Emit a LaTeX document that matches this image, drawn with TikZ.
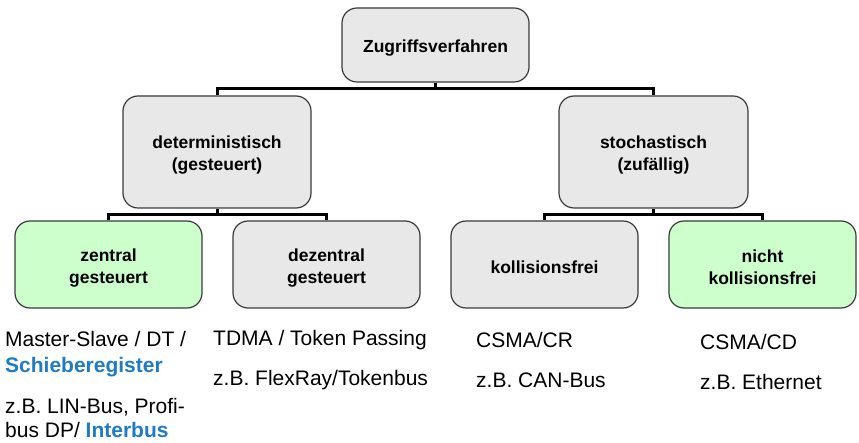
\documentclass[tikz,border=0pt]{standalone}
\usepackage{fontspec}
\setmainfont{Liberation Sans}
\definecolor{boxgray}{HTML}{E8E8E8}
\definecolor{boxgreen}{HTML}{CCFFCC}
\definecolor{boxline}{HTML}{3A3A3A}
\definecolor{linkblue}{HTML}{1F7CC4}
\newcommand\bxstrut{\rule{0pt}{19pt}}
\begin{document}
\begin{tikzpicture}[x=1pt,y=-1pt,
  box/.style={draw=boxline,line width=1.2pt,rounded corners=15pt,fill=boxgray,
    align=center,inner sep=0pt,font=\bfseries\fontsize{17.5}{22}\selectfont},
  greenbox/.style={box,fill=boxgreen},
  conn/.style={line width=3pt},
  plain/.style={anchor=base west,inner sep=0pt,font=\fontsize{21}{25}\selectfont,align=left}]
\useasboundingbox (0,0) rectangle (859,443);

\node[box,minimum width=187pt,minimum height=74pt] (top) at (435.5,45) {\bxstrut Zugriffsverfahren};
\node[box,minimum width=188pt,minimum height=112pt] (det) at (217,152) {\bxstrut deterministisch\\(gesteuert)};
\node[box,minimum width=189pt,minimum height=112pt] (sto) at (653.5,152) {\bxstrut stochastisch\\(zufällig)};

\node[greenbox,minimum width=187pt,minimum height=87pt] (zen) at (108.5,264.5) {\bxstrut zentral\\gesteuert};
\node[box,minimum width=187pt,minimum height=87pt] (dez) at (326.5,264.5) {\bxstrut dezentral\\gesteuert};
\node[box,minimum width=187pt,minimum height=87pt] (kol) at (544.5,264.5) {\bxstrut kollisionsfrei};
\node[greenbox,minimum width=187pt,minimum height=87pt] (nko) at (762.5,264.5) {\bxstrut nicht\\kollisionsfrei};

\coordinate (j1) at (435.5,89);
\coordinate (j2) at (217,215);
\coordinate (j3) at (653.5,215);

\draw[conn] (top.south) -- (j1);
\draw[conn] (det.north) |- (j1) -| (sto.north);
\draw[conn] (det.south) -- (j2);
\draw[conn] (zen.north) |- (j2) -| (dez.north);
\draw[conn] (sto.south) -- (j3);
\draw[conn] (kol.north) |- (j3) -| (nko.north);

\node[plain] (t1) at (5,347) {Master-Slave / DT /};
\node[plain] (t2) at (5,372) {\textcolor{linkblue}{\bfseries Schieberegister}};
\node[plain] (t3) at (5,413) {z.B. LIN-Bus, Profi-};
\node[plain] (t4) at (5,437) {bus DP/ \textcolor{linkblue}{\bfseries Interbus}};

\node[plain] (t5) at (213,346) {TDMA / Token Passing};
\node[plain] (t6) at (213,385) {z.B. FlexRay/Tokenbus};

\node[plain] (t7) at (476,348) {CSMA/CR};
\node[plain] (t8) at (476,387) {z.B. CAN-Bus};

\node[plain] (t9) at (700,349) {CSMA/CD};
\node[plain] (t10) at (700,389) {z.B. Ethernet};
\end{tikzpicture}
\end{document}
